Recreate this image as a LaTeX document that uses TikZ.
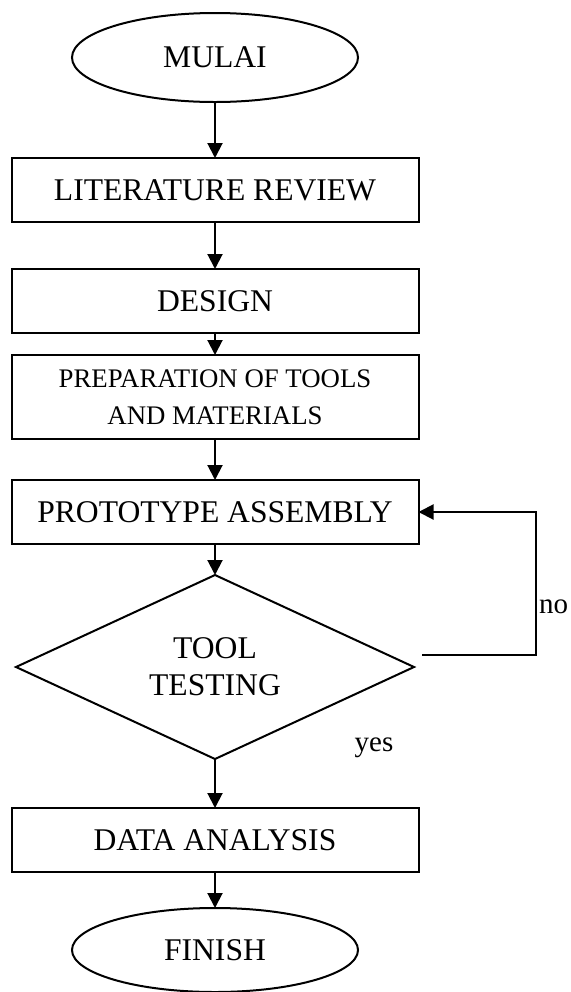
\documentclass[tikz,border=0pt]{standalone}
\usepackage{fontspec}
\setmainfont{Liberation Serif}
\usetikzlibrary{shapes.geometric,arrows.meta,positioning,calc}

\begin{document}
\begin{tikzpicture}[
    >={Triangle[length=7.5pt,width=7.5pt]},
    node distance=20pt,
    line width=1pt,
    every node/.style={font=\fontsize{15.8pt}{18.5pt}\selectfont, outer sep=0pt},
    process/.style={rectangle, draw, minimum width=203.5pt, minimum height=32pt, inner sep=2pt, align=center},
    terminal/.style={ellipse, draw, minimum width=143pt, minimum height=44.5pt, inner sep=0pt},
    decision/.style={diamond, draw, aspect=2.2, minimum width=199pt, minimum height=92pt, inner sep=0pt, align=center},
    answer/.style={font=\fontsize{14.5pt}{17pt}\selectfont}
  ]
  % page frame
  \useasboundingbox (0,0) rectangle (285.5pt,-496pt);

  % Main column
  \node[terminal] (start) at (107.5pt,-28.75pt) {MULAI};
  \node[process, below=28pt of start] (review) {LITERATURE REVIEW};
  \node[process, below=23.5pt of review] (design) {DESIGN};
  \node[process, minimum height=42pt, font=\fontsize{13.4pt}{18.5pt}\selectfont, below=11pt of design] (prep) {PREPARATION OF TOOLS\\AND MATERIALS};
  \node[process, below=20.5pt of prep] (assembly) {PROTOTYPE ASSEMBLY};

  % Decision
  \node[decision, below=15.5pt of assembly] (testing) {TOOL\\TESTING};
  \node[answer] (yes) at ($(testing.south)+(79.5pt,5.5pt)$) {yes};

  % End
  \node[process, below=24.5pt of testing] (analysis) {DATA ANALYSIS};
  \node[terminal, minimum height=42pt, below=18pt of analysis] (finish) {FINISH};

  % Arrows
  \draw[->] (start) -- (review);
  \draw[->] (review) -- (design);
  \draw[->] (design) -- (prep);
  \draw[->] (prep) -- (assembly);
  \draw[->] (assembly) -- (testing);
  \draw[->] (testing) -- (analysis);
  \draw[->] (analysis) -- (finish);

  % Loop back on failure
  \coordinate (noout) at ($(testing.east)+(4pt,6pt)$);
  \draw[->] (noout) -- ++(57pt,0) |- node[answer, pos=0.17, right, inner sep=1.5pt] {no} (assembly.east);
\end{tikzpicture}
\end{document}
